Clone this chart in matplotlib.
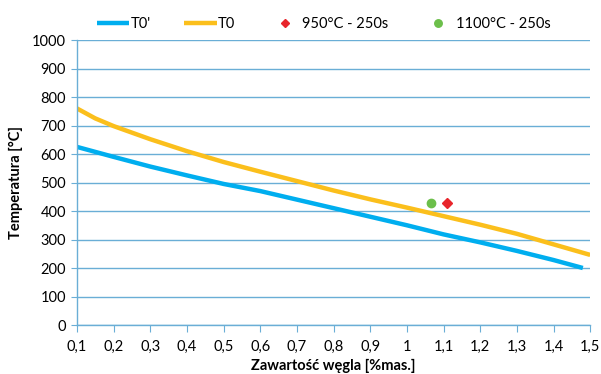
import matplotlib.pyplot as plt
from matplotlib.ticker import FixedLocator

plt.rcParams['font.family'] = ['Lato', 'DejaVu Sans']

# T0' curve
c_t0p = [0.1, 0.2, 0.3, 0.4, 0.5, 0.6, 0.7, 0.8, 0.9, 1.0, 1.1, 1.2, 1.3, 1.4, 1.48]
t0p = [625, 590, 556, 525, 495, 470, 440, 410, 380, 350, 318, 290, 260, 228, 200]

# T0 curve
c_t0 = [0.1, 0.15, 0.2, 0.3, 0.4, 0.5, 0.6, 0.7, 0.8, 0.9, 1.0, 1.1, 1.2, 1.3, 1.4, 1.5]
t0 = [760, 725, 698, 652, 610, 572, 538, 505, 472, 441, 412, 382, 352, 320, 283, 246]

# measured points
c_950 = [1.11]
t_950 = [428]
c_1100 = [1.065]
t_1100 = [428]

xticks = [0.1, 0.2, 0.3, 0.4, 0.5, 0.6, 0.7, 0.8, 0.9, 1.0, 1.1, 1.2, 1.3, 1.4, 1.5]
xlabels = ['0,1', '0,2', '0,3', '0,4', '0,5', '0,6', '0,7', '0,8', '0,9', '1',
           '1,1', '1,2', '1,3', '1,4', '1,5']
yticks = list(range(0, 1001, 100))

axis_col = '#6aaed6'

fig = plt.figure(figsize=(6.01, 3.74), dpi=100)
ax = fig.add_axes([0.128, 0.131, 0.854, 0.762])

ax.plot(c_t0p, t0p, color='#00aeef', lw=3.2, label="T0'", solid_capstyle='butt')
ax.plot(c_t0, t0, color='#fbbf1c', lw=3.2, label='T0', solid_capstyle='butt')
ax.plot(c_950, t_950, ls='none', marker='D', ms=5, color='#e8252b', label='950°C - 250s')
ax.plot(c_1100, t_1100, ls='none', marker='o', ms=6, color='#6cbf4a', label='1100°C - 250s')

ax.set_xlim(0.1, 1.5)
ax.set_ylim(0, 1000)
ax.xaxis.set_major_locator(FixedLocator(xticks))
ax.set_xticklabels(xlabels)
ax.set_yticks(yticks)
ax.yaxis.grid(True, color=axis_col, lw=1)
ax.set_axisbelow(True)

for s in ['top', 'right']:
    ax.spines[s].set_visible(False)
for s in ['left', 'bottom']:
    ax.spines[s].set_color(axis_col)
    ax.spines[s].set_linewidth(1)

ax.tick_params(axis='x', direction='out', length=5, color=axis_col, labelsize=10.5, pad=6)
ax.tick_params(axis='y', direction='out', length=4, color=axis_col, labelsize=10.5, pad=4)

ax.set_xlabel('Zawartość węgla [%mas.]', fontsize=10.5, fontweight='bold', labelpad=3)
ax.set_ylabel('Temperatura [°C]', fontsize=10.5, fontweight='bold', labelpad=6)

fig.legend(loc='upper left', bbox_to_anchor=(0.14, 0.99), ncol=4, frameon=False,
           fontsize=10.5, handlelength=2.2, handletextpad=0.1, columnspacing=2.3,
           markerscale=0.9)

fig.savefig('out.png', dpi=100)
